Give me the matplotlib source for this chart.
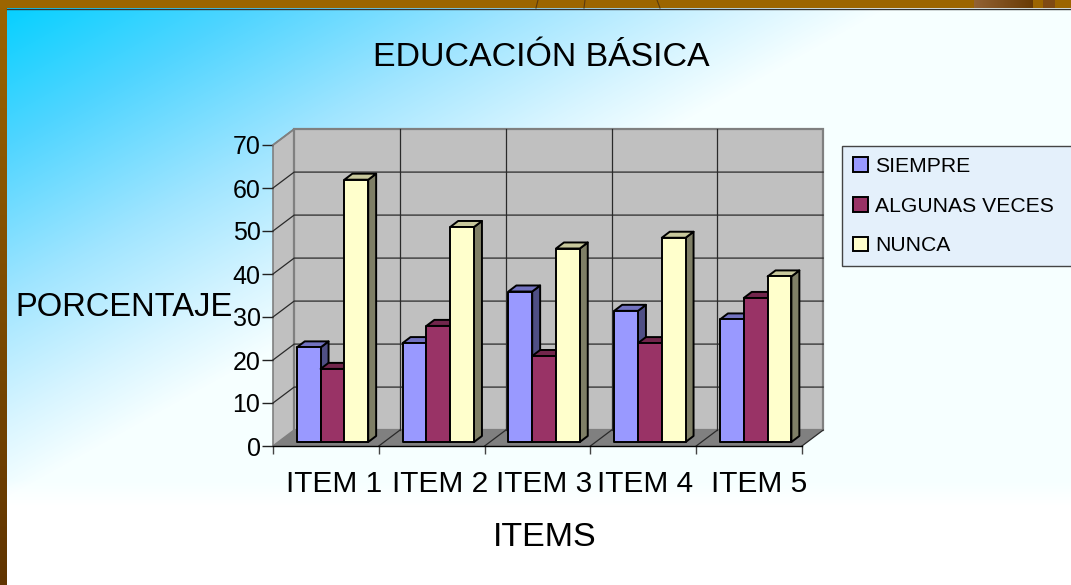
#!/usr/bin/env python3
# bar chart with the fake 3d look of old office charts
import numpy as np
import matplotlib.pyplot as plt
from matplotlib.patches import Patch, Polygon, Rectangle
from matplotlib.transforms import ScaledTranslation, Bbox

plt.rcParams['font.family'] = ['Liberation Sans', 'DejaVu Sans']

# data
items = ['ITEM 1', 'ITEM 2', 'ITEM 3', 'ITEM 4', 'ITEM 5']
siempre = [22, 23, 35, 30.5, 28.5]
algunas = [17, 27, 20, 23, 33.5]
nunca = [61, 50, 45, 47.5, 38.5]
series_names = ['SIEMPRE', 'ALGUNAS VECES', 'NUNCA']
y_ticks = [0, 10, 20, 30, 40, 50, 60, 70]

W, H = 1071, 585
# (front, top, side)
colors = [('#9999ff', '#7272c0', '#4f4f85'),
          ('#993366', '#72264c', '#5c1f3d'),
          ('#ffffcc', '#c8c89c', '#7f7f66')]
# wall depth and bar layout, in data units
WALL_DX, WALL_DY = 0.2, 3.7
BAR_W = 0.225
BAR_START = 0.225
BAR_DX, BAR_DY = 0.075, 1.4
BAR_BASE = 0.93
# label nudges in px, the labels are not centred in the original
label_nudge = [8, 8, 7, 2, 10]


def background(fig):
    bg = fig.add_axes([0, 0, 1, 1], zorder=0)
    bg.axis('off')
    xx, yy = np.meshgrid(np.arange(W), np.arange(H))
    t = xx / 900 + yy / 500
    stops = [0, 0.3, 0.6, 0.85, 1.0]
    reds = [0, 80, 160, 216, 246]
    greens = [208, 213, 229, 245, 255]
    blues = [255, 255, 255, 255, 255]
    img = np.dstack([np.interp(t, stops, c) for c in (reds, greens, blues)])
    # the tint stops just under the axis labels
    fade = np.interp(yy, [480, 505], [0, 1])[:, :, None]
    img = (img + fade * (255 - img)) / 255
    bg.imshow(img, extent=(0, W, H, 0), aspect='auto', interpolation='nearest')
    # brown frame, left side gets darker going down
    left = np.interp(np.arange(H), [0, H], [0, 1])[:, None, None]
    top_c, bot_c = np.array([156, 101, 0]), np.array([96, 52, 0])
    band = (top_c + left * (bot_c - top_c)) / 255
    bg.imshow(band, extent=(0, 7, H, 0), aspect='auto')
    bg.add_patch(Rectangle((0, 0), W, 8, color='#9c6500', lw=0))
    # bits of the slide picture showing at the top
    patch_x = np.interp(np.arange(59), [0, 59], [0, 1])[None, :, None]
    c0, c1 = np.array([146, 98, 52]), np.array([104, 58, 4])
    bg.imshow((c0 + patch_x * (c1 - c0)) / 255, extent=(974, 1033, 8, 0), aspect='auto', zorder=2)
    bg.add_patch(Rectangle((1043, 0), 12, 8, color='#7f4a14', lw=0))
    for x0, x1 in [(536, 538), (584, 585), (660, 657)]:
        bg.plot([x0, x1], [8, 0], color='#5a3a10', lw=0.8)
    bg.plot([7, W], [8.5, 8.5], color='#333333', lw=1)
    bg.set_xlim(0, W)
    bg.set_ylim(H, 0)


def walls(ax):
    n = len(items)
    top = y_ticks[-1]
    dx, dy = WALL_DX, WALL_DY
    # left wall, back wall, floor
    ax.add_patch(Polygon([(0, 0), (dx, dy), (dx, top + dy), (0, top)],
                         fc='#c0c0c0', ec='#808080', lw=1.2, zorder=1, clip_on=False))
    ax.add_patch(Polygon([(dx, dy), (n + dx, dy), (n + dx, top + dy), (dx, top + dy)],
                         fc='#c0c0c0', ec='#808080', lw=1.6, zorder=1, clip_on=False))
    ax.add_patch(Polygon([(0, 0), (n, 0), (n + dx, dy), (dx, dy)],
                         fc='#808080', ec='none', zorder=1.5, clip_on=False))
    for v in y_ticks[1:-1]:
        ax.plot([0, dx, n + dx], [v, v + dy, v + dy], color='#2a2a2a', lw=0.9,
                zorder=2, clip_on=False)
    ax.plot([0, dx], [top, top + dy], color='#808080', lw=1.2, zorder=2, clip_on=False)
    for i in range(1, n):
        ax.plot([i + dx, i + dx], [dy, top + dy], color='#2a2a2a', lw=0.9,
                zorder=2, clip_on=False)
    for i in range(1, n + 1):
        ax.plot([i, i + dx], [0, dy], color='#2a2a2a', lw=0.9, zorder=2, clip_on=False)


def bar3d(ax, x, val, cols, z):
    y0 = BAR_BASE
    y1 = val + BAR_BASE
    x1 = x + BAR_W
    dx, dy = BAR_DX, BAR_DY
    kw = dict(ec='black', lw=1.4, joinstyle='round', zorder=z, clip_on=False)
    ax.add_patch(Polygon([(x1, y0), (x1 + dx, y0 + dy), (x1 + dx, y1 + dy), (x1, y1)],
                         fc=cols[2], **kw))
    ax.add_patch(Polygon([(x, y1), (x1, y1), (x1 + dx, y1 + dy), (x + dx, y1 + dy)],
                         fc=cols[1], **kw))
    ax.add_patch(Rectangle((x, y0), BAR_W, val, fc=cols[0], **kw))


def main():
    fig = plt.figure(figsize=(W / 100, H / 100), dpi=100)
    background(fig)
    ax = fig.add_axes([273 / W, 1 - 446 / H, (802 - 273) / W, (446 - 145) / H], zorder=1)
    ax.patch.set_visible(False)
    ax.set_xlim(0, len(items))
    ax.set_ylim(0, y_ticks[-1])
    for s in ['top', 'right', 'left']:
        ax.spines[s].set_visible(False)
    ax.spines['bottom'].set_linewidth(1.0)
    ax.spines['bottom'].set_zorder(6)
    walls(ax)

    z = 3
    for i in range(len(items)):
        vals = [siempre[i], algunas[i], nunca[i]]
        for j, v in enumerate(vals):
            bar3d(ax, i + BAR_START + j * BAR_W, v, colors[j], z)
            z += 0.01

    ax.set_yticks(y_ticks)
    ax.tick_params(axis='y', length=8, width=1, labelsize=18, pad=1, color='#222222')
    ax.set_xticks(range(len(items) + 1))
    ax.set_xticklabels([])
    ax.tick_params(axis='x', which='major', length=6, width=1, color='#444444')
    ax.set_xticks(np.arange(len(items)) + 0.5, labels=items, minor=True)
    ax.tick_params(axis='x', which='minor', length=0, labelsize=21.5, pad=17)
    for lab, nudge in zip(ax.get_xticklabels(minor=True), label_nudge):
        lab.set_transform(lab.get_transform() + ScaledTranslation(nudge / 100, 0, fig.dpi_scale_trans))

    fig.text(541 / W, 1 - 58 / H, 'EDUCACIÓN BÁSICA', fontsize=24.4, ha='center', va='center')
    fig.text(124 / W, 1 - 308 / H, 'PORCENTAJE', fontsize=23.6, ha='center', va='center')
    fig.text(545 / W, 1 - 538 / H, 'ITEMS', fontsize=24.5, ha='center', va='center')

    handles = [Patch(fc=c[0], ec='black', lw=1.4) for c in colors]
    box = Bbox.from_extents(842 / W, 1 - 264 / H, 1080 / W, 1 - 146 / H)
    leg = fig.legend(handles, series_names, bbox_to_anchor=box, bbox_transform=fig.transFigure,
                     loc='upper left', mode='expand', borderaxespad=0, fontsize=15.2,
                     fancybox=False, framealpha=1, facecolor='#e4f0fb', edgecolor='#444444',
                     handlelength=0.7, handleheight=0.7, handletextpad=0.35, labelspacing=0.98,
                     borderpad=0.52)
    leg.set_zorder(5)
    fig.savefig('out.png', dpi=100)


if __name__ == "__main__":
    main()
